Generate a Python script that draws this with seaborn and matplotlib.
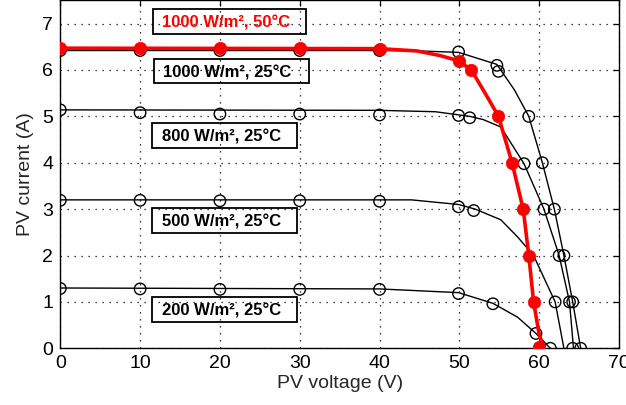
import numpy as np
import pandas as pd
import matplotlib
matplotlib.use("Agg")
import matplotlib.pyplot as plt
from matplotlib.patches import Rectangle
import seaborn as sns

# ---------------- data ----------------
# 1000 W/m2, 50 C (red, filled markers)
v50_line = [0, 40, 44.7, 47.6, 49.9, 51.5, 53.5, 54.9, 56.6, 58.0, 58.7, 59.3, 60.0, 60.6]
i50_line = [6.47, 6.46, 6.41, 6.31, 6.2, 6.0, 5.42, 5.0, 4.0, 3.0, 2.0, 1.0, 0.3, 0.0]
v50_mark = [0, 10, 20, 30, 40, 49.9, 51.5, 54.9, 56.6, 58.0, 58.7, 59.3, 60.0]
i50_mark = [6.47, 6.47, 6.47, 6.47, 6.46, 6.2, 6.0, 5.0, 4.0, 3.0, 2.0, 1.0, 0.03]

# 1000 W/m2, 25 C
v1000_line = [0, 40, 45, 49.9, 54.7, 56.9, 58.7, 60.4, 61.9, 63.1, 64.2, 65.2]
i1000_line = [6.42, 6.42, 6.41, 6.38, 6.12, 5.57, 5.0, 4.0, 3.0, 2.0, 1.0, 0.0]
v1000_mark = [0, 10, 20, 30, 40, 49.9, 54.7, 54.9, 58.7, 60.4, 61.9, 63.1, 64.2, 65.2]
i1000_mark = [6.42, 6.42, 6.42, 6.42, 6.42, 6.39, 6.1, 5.97, 5.0, 4.0, 3.0, 2.0, 1.0, 0.0]

# 800 W/m2, 25 C
v800_line = [0, 40, 47, 51.3, 53.0, 55.2, 58.1, 60.6, 62.5, 63.8, 64.3]
i800_line = [5.14, 5.13, 5.1, 5.0, 4.93, 4.77, 3.98, 3.0, 2.0, 1.0, 0.0]
v800_mark = [0, 10, 20, 30, 40, 49.9, 51.3, 58.1, 60.6, 62.5, 63.8, 64.2]
i800_mark = [5.14, 5.08, 5.05, 5.05, 5.03, 5.02, 4.97, 3.98, 3.0, 2.0, 1.0, 0.0]

# 500 W/m2, 25 C
v500_line = [0, 44, 49.9, 52.0, 55.2, 57.3, 59.3, 62.0, 63.1]
i500_line = [3.2, 3.2, 3.1, 3.0, 2.77, 2.4, 2.0, 1.0, 0.0]
v500_mark = [0, 10, 20, 30, 40, 49.9, 51.8, 62.0]
i500_mark = [3.19, 3.19, 3.18, 3.18, 3.17, 3.05, 2.97, 1.0]

# 200 W/m2, 25 C
v200_line = [0, 40, 49.9, 54.2, 57.3, 59.6, 61.4]
i200_line = [1.3, 1.28, 1.2, 0.97, 0.67, 0.32, 0.0]
v200_mark = [0, 10, 20, 30, 40, 49.9, 54.2, 59.6, 61.4]
i200_mark = [1.29, 1.28, 1.27, 1.27, 1.27, 1.18, 0.96, 0.32, 0.0]

labels = ["1000 W/m², 50°C", "1000 W/m², 25°C", "800 W/m², 25°C",
          "500 W/m², 25°C", "200 W/m², 25°C"]
x_ticks = [0, 10, 20, 30, 40, 50, 60, 70]
y_ticks = [0, 1, 2, 3, 4, 5, 6, 7]

# ---------------- figure ----------------
sns.set_style("white")
plt.rcParams['font.family'] = ['Liberation Sans', 'DejaVu Sans']

fig = plt.figure(figsize=(6.26, 4.05), dpi=100)
ax = fig.add_axes([0.0963, 0.14, 0.8925, 0.859])

black_sets = [(v1000_line, i1000_line, v1000_mark, i1000_mark),
              (v800_line, i800_line, v800_mark, i800_mark),
              (v500_line, i500_line, v500_mark, i500_mark),
              (v200_line, i200_line, v200_mark, i200_mark)]

for vl, il, vm, im in black_sets:
    sns.lineplot(x=vl, y=il, ax=ax, color="black", linewidth=1.0,
                 sort=False, estimator=None, zorder=3)
    sns.scatterplot(x=vm, y=im, ax=ax, s=68, facecolor="none",
                    edgecolor="black", linewidth=1.0, zorder=4)

sns.lineplot(x=v50_line, y=i50_line, ax=ax, color="#ff0000", linewidth=2.6,
             sort=False, estimator=None, zorder=5)
sns.scatterplot(x=v50_mark, y=i50_mark, ax=ax, s=80, color="#ff0000",
                edgecolor="#ff0000", linewidth=0.5, zorder=6)

ax.set_xlim(0, 70)
ax.set_ylim(0, 7.5)
ax.set_xticks(x_ticks)
ax.set_yticks(y_ticks)
ax.set_xticklabels([str(t) for t in x_ticks])
ax.set_yticklabels([str(t) for t in y_ticks])

ax.grid(True, color="black", linestyle=(0, (1.0, 4.6)), linewidth=0.9)
ax.set_axisbelow(True)
for sp in ax.spines.values():
    sp.set_visible(True)
    sp.set_color("black")
    sp.set_linewidth(1.0)

ax.tick_params(direction="in", length=4, width=0.9, top=True, right=True,
               labelsize=14, colors="black", pad=5)

ax.set_xlabel("PV voltage (V)", fontsize=14, labelpad=2)
ax.set_ylabel("PV current (A)", fontsize=14, labelpad=6)

# annotation boxes (transparent, black edge)
box_specs = [  # (x0, x1, y0, y1, text colour)
    (11.6, 30.8, 6.77, 7.31, "#ff0000"),
    (11.76, 31.1, 5.71, 6.23, "black"),
    (11.54, 29.66, 4.31, 4.86, "black"),
    (11.54, 29.66, 2.48, 3.02, "black"),
    (11.54, 29.66, 0.57, 1.10, "black"),
]
for (x0, x1, y0, y1, c), lab in zip(box_specs, labels):
    ax.add_patch(Rectangle((x0, y0), x1 - x0, y1 - y0, fill=False,
                           edgecolor="black", linewidth=1.3, zorder=7))
    ax.text(x0 + 1.15, (y0 + y1) / 2, lab, color=c, fontsize=12,
            fontweight="bold", ha="left", va="center_baseline", zorder=8)

fig.savefig("out.png", dpi=100)
